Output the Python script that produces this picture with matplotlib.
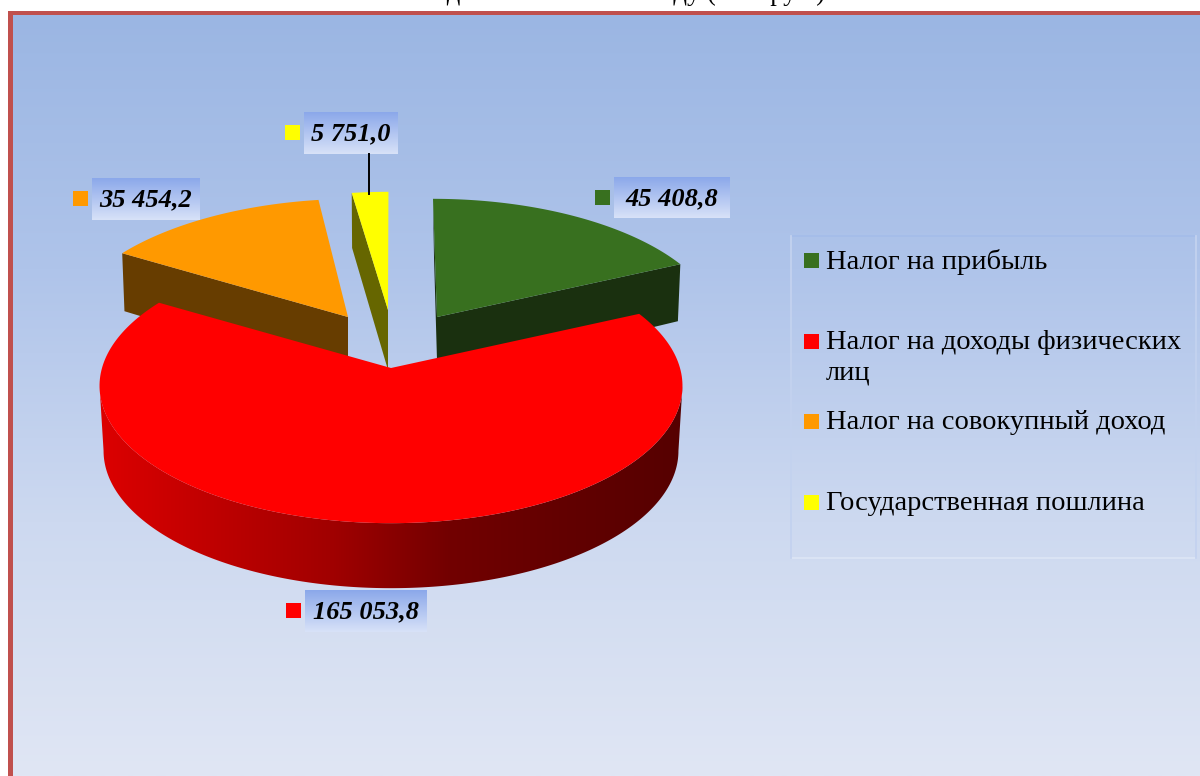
import numpy as np
import matplotlib
matplotlib.use("Agg")
import matplotlib.pyplot as plt
from matplotlib.colors import LinearSegmentedColormap
from matplotlib.patches import Polygon, Rectangle

categories = ["Налог на прибыль", "Налог на доходы физических\nлиц",
              "Налог на совокупный доход", "Государственная пошлина"]
values = [45408.8, 165053.8, 35454.2, 5751.0]
colors = ["#38701F", "#FF0000", "#FF9900", "#FFFF00"]
side_colors = ["#1A300F", "#660000", "#673D00", "#666600"]
title = "Сведения в отчётном году (тыс. руб.)"

plt.rcParams["font.family"] = ["Liberation Serif", "DejaVu Serif"]


def fmt(v):
    return f"{v:,.1f}".replace(",", " ").replace(".", ",")


def grad(ax, colors_, extent, vertical=True, clip=None, zorder=1):
    cmap = LinearSegmentedColormap.from_list("g", colors_)
    g = np.linspace(0, 1, 256)
    g = g.reshape(-1, 1) if vertical else g.reshape(1, -1)
    im = ax.imshow(g, cmap=cmap, extent=extent, aspect="auto", zorder=zorder,
                   interpolation="bilinear")
    if clip is not None:
        im.set_clip_path(clip)
    return im


def project(theta, r, cx, cy, rx, ry, p, s):
    # simple perspective for the tilted pie, theta clockwise from 12 o'clock
    u = r * np.sin(np.deg2rad(theta))
    v = r * np.cos(np.deg2rad(theta))
    w = 1 + p * v
    return cx + (rx * u + s * v) / w, cy - ry * v / w


def wedge_top(a0, a1, **k):
    t = np.linspace(a0, a1, 200)
    x, y = project(t, 1, **k)
    return np.r_[k["cx"], x], np.r_[k["cy"], y]


def face(theta, h, hc, **k):
    # flat cut of a slice, from the apex out to the rim
    x, y = project(theta, 1, **k)
    pts = [(k["cx"], k["cy"]), (x, y),
           (k["cx"] + 0.99 * (x - k["cx"]), y + h),
           (k["cx"], k["cy"] + hc)]
    return pts


fig = plt.figure(figsize=(12, 7.76), dpi=100)
ax = fig.add_axes([0, 0, 1, 1])
ax.set_xlim(0, 1200)
ax.set_ylim(776, 0)
ax.axis("off")

# backdrop and frame
grad(ax, ["#9BB6E3", "#AFC4EA", "#CDD9F0", "#E0E6F4"], (13, 1200, 776, 15), zorder=0)
ax.add_patch(Rectangle((8, 11), 1192, 4, fc="#C0504D", ec="none", zorder=1))
ax.add_patch(Rectangle((8, 11), 5, 765, fc="#C0504D", ec="none", zorder=1))
ax.text(825, 0, title, ha="right", va="baseline", fontsize=19.2, color="black", zorder=5)

# slice angles come from the values
ang = np.cumsum([0] + values) / sum(values) * 360
base = dict(rx=282, ry=130, p=0.1)
green = dict(cx=437, cy=317, s=-4.4, **base)
orange = dict(cx=348, cy=317, s=8, **base)
yellow = dict(cx=388, cy=310, s=0.5, **base)
red = dict(cx=391, cy=368, s=0, rx=289, ry=135, p=0.13)

# back slices, cut faces first
x0, y0 = project(ang[0], 1, **green)
ax.add_patch(Polygon([(x0, y0), (437, 317), (437, 360), (x0 + 1, y0 + 58)],
                     fc=side_colors[0], ec="none", zorder=2))
ax.add_patch(Polygon(face(ang[1], 57, 62, **green), fc=side_colors[0], ec="none", zorder=2))
ax.add_patch(Polygon(face(ang[2], 58, 62, **orange), fc=side_colors[2], ec="none", zorder=2))
ax.add_patch(Polygon(face(ang[3], 55, 60, **yellow), fc=side_colors[3], ec="none", zorder=2))
for i, k in [(0, green), (2, orange), (3, yellow)]:
    x, y = wedge_top(ang[i], ang[i + 1], **k)
    ax.fill(x, y, color=colors[i], lw=0, zorder=3)

# big front slice with the shaded rim, silhouette joins the widest points
t = np.linspace(ang[1], ang[2], 400)
xt, yt = project(t, 1, **red)
low = dict(red)
low.update(rx=285, cy=433)
xb, yb = project(t, 1, **low)
ir, il = np.argmax(xt), np.argmin(xt)
jr, jl = np.argmax(xb), np.argmin(xb)
rim = Polygon(np.c_[np.r_[xb[jr:jl + 1], xt[ir:il + 1][::-1]],
                    np.r_[yb[jr:jl + 1], yt[ir:il + 1][::-1]]],
              fc="none", ec="none", transform=ax.transData)
ax.add_patch(rim)
grad(ax, ["#DC0000", "#BE0000", "#A00000", "#720000", "#620000", "#560000"],
     (100, 684, 600, 300), vertical=False, clip=rim, zorder=4)
x, y = wedge_top(ang[1], ang[2], **red)
ax.fill(x, y, color=colors[1], lw=0, zorder=5)

# data labels
boxes = [(614, 177, 116, 41), (305, 590, 122, 42), (92, 178, 108, 42), (304, 112, 94, 42)]
for i, (bx, by, bw, bh) in enumerate(boxes):
    grad(ax, ["#8BA8EA", "#D8E2F8"], (bx, bx + bw, by + bh, by), zorder=6)
    ax.add_patch(Rectangle((bx - 19, by + 13), 15, 15, fc=colors[i], ec="none", zorder=6))
    ax.text(bx + bw / 2, by + bh / 2 + 1, fmt(values[i]), ha="center", va="center",
            fontsize=19, style="italic", weight="bold", color="black", zorder=7)
ax.plot([369, 369], [154, 194], color="black", lw=1.4, zorder=6)

# legend box, blue on top and pale at the bottom
lx0, lx1, ly0, ly1 = 791, 1196, 236, 558
ax.plot([lx0, lx1], [ly0, ly0], color="#A5BDE9", lw=1.3, zorder=2)
ax.plot([lx0, lx1], [ly1, ly1], color="#DCE4F5", lw=1.3, zorder=2)
ax.plot([lx0, lx0], [ly0, ly1], color="#C3D2EF", lw=1.3, zorder=2)
ax.plot([lx1, lx1], [ly0, ly1], color="#C3D2EF", lw=1.3, zorder=2)
key_y = [253, 334, 414, 495]
for name, c, ky in zip(categories, colors, key_y):
    ax.add_patch(Rectangle((804, ky), 15, 15, fc=c, ec="none", zorder=6))
    ax.text(826, ky - 4, name, ha="left", va="top", fontsize=20.5, color="black",
            linespacing=1.3, zorder=7)

ax.set_xlim(0, 1200)
ax.set_ylim(776, 0)
fig.savefig("out.png", dpi=100, facecolor="white")
